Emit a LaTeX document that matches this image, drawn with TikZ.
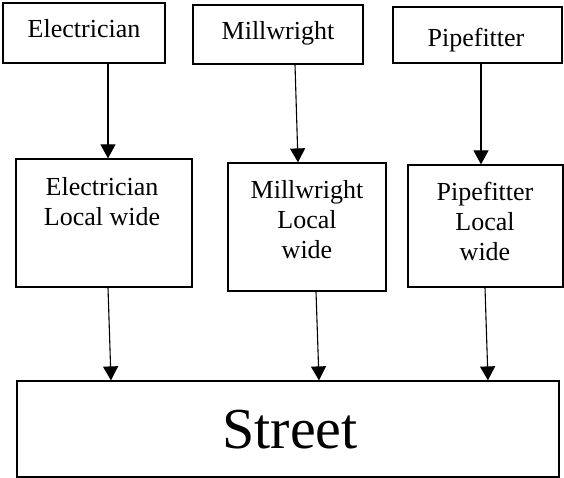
\documentclass[tikz,border=0pt]{standalone}
\usepackage{fontspec}
\setmainfont{Liberation Serif}
\usetikzlibrary{arrows.meta}

\begin{document}
\begin{tikzpicture}[x=1pt,y=-1pt,
  box/.style={draw=black, line width=1.2pt, rectangle, inner sep=0pt},
  lbl/.style={inner sep=0pt, align=center, font=\fontsize{26pt}{30pt}\selectfont},
  biglbl/.style={inner sep=0pt, font=\fontsize{58pt}{64pt}\selectfont},
  arr/.style={draw=black, line width=1.1pt, -{Triangle[width=15pt,length=14pt]}}]
\useasboundingbox (0,0) rectangle (564,478);

% trade boxes
\node[box, minimum width=162pt, minimum height=60pt] (topE) at (84,33) {};
\node[box, minimum width=170pt, minimum height=59pt] (topM) at (278,34.5) {};
\node[box, minimum width=169pt, minimum height=56pt] (topP) at (477.5,35) {};
\node[lbl, anchor=base] (topEt) at (84,38) {Electrician};
\node[lbl, anchor=base] (topMt) at (278,40) {Millwright};
\node[lbl, anchor=base] (topPt) at (476,47) {Pipefitter};

% local-wide boxes
\node[box, minimum width=176pt, minimum height=128pt] (midE) at (104,223) {};
\node[box, minimum width=158pt, minimum height=128pt] (midM) at (307,227) {};
\node[box, minimum width=155pt, minimum height=122pt] (midP) at (485.5,226) {};
\node[lbl, anchor=north] (midEt) at (102,177) {Electrician\\Local wide};
\node[lbl, anchor=north] (midMt) at (307,180) {Millwright\\Local\\wide};
\node[lbl, anchor=north] (midPt) at (485,182) {Pipefitter\\Local\\wide};

% street
\node[box, minimum width=542pt, minimum height=96pt] (street) at (288,429) {};
\node[biglbl, anchor=base] (streett) at (290,448) {Street};

% connectors
\draw[arr] ([xshift=24pt]topE.south) -- ([xshift=4pt]midE.north);
\draw[arr] ([xshift=17pt]topM.south) -- ([xshift=-9pt]midM.north);
\draw[arr] ([xshift=3.5pt]topP.south) -- ([xshift=-4.5pt]midP.north);
\draw[arr] ([xshift=4pt]midE.south) -- ([xshift=-177pt]street.north);
\draw[arr] ([xshift=9pt]midM.south) -- ([xshift=31pt]street.north);
\draw[arr] ([xshift=-0.5pt]midP.south) -- ([xshift=200pt]street.north);
\end{tikzpicture}
\end{document}
